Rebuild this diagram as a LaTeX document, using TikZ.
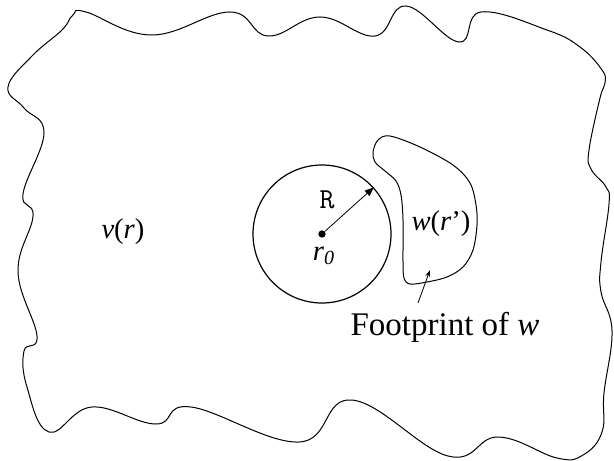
\documentclass[tikz,border=0pt]{standalone}
\usepackage{fontspec}
\setmainfont{Liberation Serif}
\usetikzlibrary{arrows.meta, positioning}

\begin{document}
\begin{tikzpicture}[x=0.5pt, y=-0.5pt]

% ---------------------------------------------------------------- colours
\definecolor{ink}{HTML}{000000}   % every line and every label

% ---------------------------------------------------------------- styles
\tikzset{
    rim/.style={ink, line width=0.5pt},
    ball/.style={circle, draw=ink, line width=0.6pt, minimum size=69pt,
                 inner sep=0pt},
    centre/.style={circle, fill=ink, inner sep=1.3pt},
    radius/.style={ink, line width=0.4pt,
                   -{Triangle[length=4.5pt, width=3.6pt]}},
    pointer/.style={ink, line width=0.4pt,
                    -{Stealth[length=3.5pt, width=2.4pt]}},
    symb/.style={font=\fontsize{14.3}{16}\selectfont, text=ink,
                 inner sep=0pt, anchor=base},
    caption/.style={font=\fontsize{16.5}{19}\selectfont, text=ink,
                    inner sep=0pt, anchor=base},
}

% ================================================================
% Coordinates are in pixels of a 614 x 460 frame, y running down.
% ================================================================
\useasboundingbox (0,0) rectangle (614,460);

% ----------------------------------------------------------------------
% the whole region, wavy all round
% ----------------------------------------------------------------------
\draw[rim] plot[smooth cycle, tension=0.7] coordinates {
    (62,30) (73,15) (86,12) (152,35) (230,12) (268,36)
    (320,17) (375,36) (406,6) (459,42)
    (481,12) (547,30) (580,47) (602,70) (605,83) (600,98)
    (589,150) (591,169) (606,187) (609,204) (601,262)
    (601,292) (612,331) (604,393) (602,432)
    (583,455) (557,458) (498,437) (448,456) (352,400)
    (299,442) (191,407) (156,424) (92,407) (49,432) (27,387)
    (24,351) (37,336) (18,272) (33,216)
    (23,194) (44,133) (24,108) (8,87) (32,56)
};
\node[symb] (vr) at (123,238) {\textit{v}(\textit{r})};

% ----------------------------------------------------------------------
% the ball of radius R round r0
% ----------------------------------------------------------------------
\node[ball] (ball) at (322,234) {};
\node[centre] (c0) at (322,234) {};
\draw[radius] (c0) -- (ball.42);
\node[symb, font={\fontsize{14.5}{16}\selectfont\ttfamily}] (R) at (327,208) {R};
\node[symb] (r0) at (324,260) {\textit{r}\textsubscript{\textit{0}}};

% ----------------------------------------------------------------------
% the footprint of w
% ----------------------------------------------------------------------
\draw[rim] plot[smooth cycle, tension=0.55] coordinates {
    (373,152) (378,140) (390,136) (420,147) (453,165) (470,183)
    (476,205) (477,225) (473,250) (463,267) (447,277) (427,282)
    (410,284) (404,278) (403,262) (403,220) (401,195) (396,181)
    (385,171) (375,162)
};
\node[symb] (wr) at (441,230) {\textit{w}(\textit{r}')};

\node[caption] (fp) at (445,335) {Footprint of \textit{w}};
\coordinate (ptail) at (418,303);
\coordinate (ptip) at (430,270);
\draw[pointer] (ptail) -- (ptip);

\end{tikzpicture}
\end{document}
